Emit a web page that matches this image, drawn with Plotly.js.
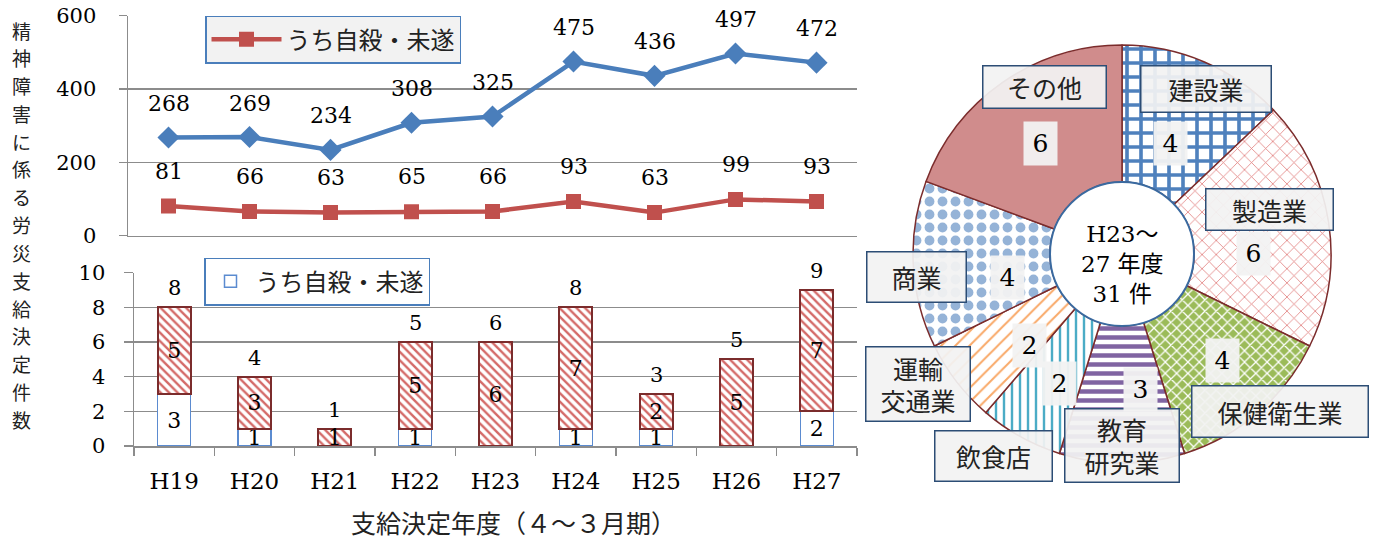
<!DOCTYPE html>
<html><head><meta charset="utf-8">
<script src="https://cdn.plot.ly/plotly-3.0.1.min.js"></script>
<style>html,body{margin:0;padding:0;background:#fff}#chart{width:1381px;height:540px}</style>
</head><body><div id="chart"></div>
<script>
// ---- data ----
const years = ['H19','H20','H21','H22','H23','H24','H25','H26','H27'];
const mentalTotal = [268,269,234,308,325,475,436,497,472];
const mentalSuicide = [81,66,63,65,66,93,63,99,93];
const deathSuicide = [3,1,0,1,0,1,1,0,2];
const deathOther = [5,3,1,5,6,7,2,5,7];
const deathTotalLabels = ['8','4','1','5','6','8','3','5','9'];
const industries = ['建設業','製造業','保健衛生業','教育研究業','飲食店','運輸交通業','商業','その他'];
const industryCounts = [4,6,4,3,2,2,4,6];
const legendName = 'うち自殺・未遂';
const yTitle = '精神障害に係る労災支給決定件数';
const xTitle = '支給決定年度（４～３月期）';
const pieCenterLines = ['H23～','27 年度','31 件'];

// ---- layout helpers ----
const W = 1381, H = 540;
const px = x => x / W, py = y => 1 - y / H;
const SERIF = 'DejaVu Serif, Noto Sans CJK JP, serif';
const JP = 'Noto Sans CJK JP, sans-serif';
const GRID = '#8c8c8c';
const BLUE = '#4a7ebb', RED = '#c0504d';

const pieStyle = {
  colors:   ['#ffffff','#ffffff','#9bbb59','#ffffff','#ffffff','#ffffff','#ffffff','#d08c8c'],
  shape:    ['+','x','x','-','|','/','.',''],
  fg:       ['#4f81bd','#e07a78','#ffffff','#8064a2','#4bacc6','#f9a968','#95b3d7','#d08c8c'],
  bg:       ['#ffffff','#ffffff','#9bbb59','#ffffff','#ffffff','#ffffff','#ffffff','#d08c8c'],
  size:     [14,10,8,9,8,10,13,8],
  solidity: [0.45,0.15,0.3,0.5,0.3,0.2,0.45,0.3]
};
// label box placement (pixels): center x, center y, width, height
const catBox = [
  [1206,89,131,47],[1269,209,128,42],[1280,411,177,52],[1122,445,115,74],
  [993,456,118,51],[918,384,105,75],[916,277,100,51],[1044,87,124,43]
];
const catText = {'教育研究業':'教育<br>研究業','運輸交通業':'運輸<br>交通業'};
const valBox = [[1170,144],[1253,253],[1222,360],[1140,389],[1059,383],[1029,345],[1007,277],[1040,144]];

const traces = [
  {type:'scatter', mode:'lines+markers', x:years, y:mentalTotal, xaxis:'x', yaxis:'y',
   line:{color:BLUE, width:4.5}, marker:{symbol:'diamond', size:17, color:BLUE},
   showlegend:false, hoverinfo:'none'},
  {type:'scatter', mode:'lines+markers', x:years, y:mentalSuicide, xaxis:'x', yaxis:'y',
   name:legendName, legend:'legend',
   line:{color:RED, width:4.5}, marker:{symbol:'square', size:15, color:RED},
   hoverinfo:'none'},
  {type:'bar', x:years, y:deathSuicide, xaxis:'x2', yaxis:'y2', name:legendName, legend:'legend2',
   marker:{color:'#ffffff', line:{color:'#5b8bd0', width:1.5}},
   text:deathSuicide.map(v => v > 0 ? String(v) : ''), textposition:'inside',
   insidetextanchor:'middle', textangle:0, constraintext:'none',
   textfont:{family:SERIF, size:22, color:'#000'}, hoverinfo:'none'},
  {type:'bar', x:years, y:deathOther, xaxis:'x2', yaxis:'y2', showlegend:false,
   marker:{color:'#ffffff', pattern:{shape:'\\', fgcolor:'#d46a68', bgcolor:'#ffffff', size:6, solidity:0.4},
           line:{color:'#7b2c2c', width:2}},
   text:deathOther.map(v => v > 0 ? String(v) : ''), textposition:'inside',
   insidetextanchor:'middle', textangle:0, constraintext:'none',
   textfont:{family:SERIF, size:22, color:'#000'}, hoverinfo:'none'},
  {type:'pie', labels:industries, values:industryCounts, sort:false, direction:'clockwise',
   rotation:0, hole:0.345, textinfo:'none', hoverinfo:'none', showlegend:false,
   domain:{x:[px(913), px(1331)], y:[py(463), py(45)]},
   marker:{colors:pieStyle.colors, line:{color:'#7b2c2c', width:1.5},
     pattern:{shape:pieStyle.shape, fgcolor:pieStyle.fg, bgcolor:pieStyle.bg,
              size:pieStyle.size, solidity:pieStyle.solidity}}}
];

const ann = [];
const P = (x, y, extra) => Object.assign({x:px(x), y:py(y), xref:'paper', yref:'paper',
  xanchor:'center', yanchor:'middle', showarrow:false}, extra);
years.forEach((yr, i) => {
  ann.push({x:yr, y:mentalTotal[i], xref:'x', yref:'y', text:String(mentalTotal[i]), showarrow:false,
            xanchor:'center', yanchor:'middle', yshift:34, font:{family:SERIF, size:22, color:'#000'}});
  ann.push({x:yr, y:mentalSuicide[i], xref:'x', yref:'y', text:String(mentalSuicide[i]), showarrow:false,
            xanchor:'center', yanchor:'middle', yshift:35, font:{family:SERIF, size:22, color:'#000'}});
  ann.push({x:yr, y:deathSuicide[i] + deathOther[i], xref:'x2', yref:'y2', text:deathTotalLabels[i],
            showarrow:false, xanchor:'center', yanchor:'middle', yshift:19,
            font:{family:SERIF, size:21, color:'#000'}});
});
// vertical y title (one upright character per line)
Array.from(yTitle).forEach((ch, i) => {
  ann.push(P(21, 30 + i * 27.8, {text:ch, font:{family:JP, size:19, color:'#222'}}));
});
ann.push(P(513, 522, {text:xTitle, font:{family:JP, size:25, color:'#222'}}));
// pie center
ann.push(P(1122, 264, {text:pieCenterLines.join('<br>'), font:{family:SERIF, size:23, color:'#000'}}));
industries.forEach((name, i) => {
  const b = catBox[i];
  ann.push(P(b[0], b[1], {text:catText[name] || name, width:b[2] - 4, height:b[3] - 4,
            bgcolor:'rgba(242,242,242,0.93)', bordercolor:'#2c4d75', borderwidth:1.5, borderpad:1,
            font:{family:JP, size:25, color:'#222'}}));
  const v = valBox[i];
  ann.push(P(v[0], v[1], {text:String(industryCounts[i]), width:31, height:41,
            bgcolor:'rgba(242,242,242,0.95)', borderpad:1, font:{family:SERIF, size:25, color:'#000'}}));
});

const layout = {
  width:W, height:H, margin:{l:0, r:0, t:0, b:0}, paper_bgcolor:'#fff', plot_bgcolor:'rgba(0,0,0,0)',
  font:{family:SERIF, color:'#000'},
  barmode:'stack', bargap:0.59,
  xaxis:{domain:[px(128), px(857)], anchor:'y', type:'category', range:[-0.5, 8.5],
         showticklabels:false, ticks:'', showgrid:false, zeroline:false,
         showline:true, linecolor:GRID, linewidth:1.5},
  yaxis:{domain:[py(235.7), py(15.7)], anchor:'x', range:[0, 600], dtick:200, tick0:0,
         showgrid:true, gridcolor:GRID, gridwidth:1.5, zeroline:false,
         showline:true, linecolor:GRID, linewidth:1.5,
         ticks:'outside', ticklen:8, tickcolor:GRID, tickwidth:1.5, ticklabelstandoff:18,
         tickfont:{family:SERIF, size:21, color:'#000'}},
  xaxis2:{domain:[px(134), px(857)], anchor:'y2', type:'category', range:[-0.5, 8.5],
          showgrid:false, zeroline:false, showline:true, linecolor:GRID, linewidth:1.5,
          ticks:'outside', tickson:'boundaries', ticklen:8, tickcolor:GRID, tickwidth:1.5,
          ticklabelstandoff:14, tickfont:{family:SERIF, size:23, color:'#000'}},
  yaxis2:{domain:[py(446), py(272.7)], anchor:'x2', range:[0, 10], dtick:2, tick0:0,
          showgrid:true, gridcolor:GRID, gridwidth:1.5, zeroline:false,
          showline:true, linecolor:GRID, linewidth:1.5,
          ticks:'outside', ticklen:9, tickcolor:GRID, tickwidth:1.5, ticklabelstandoff:14,
          tickfont:{family:SERIF, size:21, color:'#000'}},
  showlegend:true,
  legend:{x:px(205), y:py(15.7), xanchor:'left', yanchor:'top', bgcolor:'#f2f2f2',
          bordercolor:BLUE, borderwidth:1.5, font:{family:JP, size:24, color:'#222'}, itemwidth:70},
  legend2:{x:px(204), y:py(257.7), xanchor:'left', yanchor:'top', bgcolor:'#ffffff',
           bordercolor:BLUE, borderwidth:1.5, font:{family:JP, size:24, color:'#222'}, itemwidth:40},
  shapes:[{type:'circle', xref:'paper', yref:'paper', x0:px(1050), x1:px(1194), y0:py(326), y1:py(182),
           fillcolor:'#ffffff', line:{color:'#3a6aa0', width:2}}],
  annotations:ann
};

Plotly.newPlot('chart', traces, layout, {staticPlot:true, displayModeBar:false});
</script>
</body></html>
